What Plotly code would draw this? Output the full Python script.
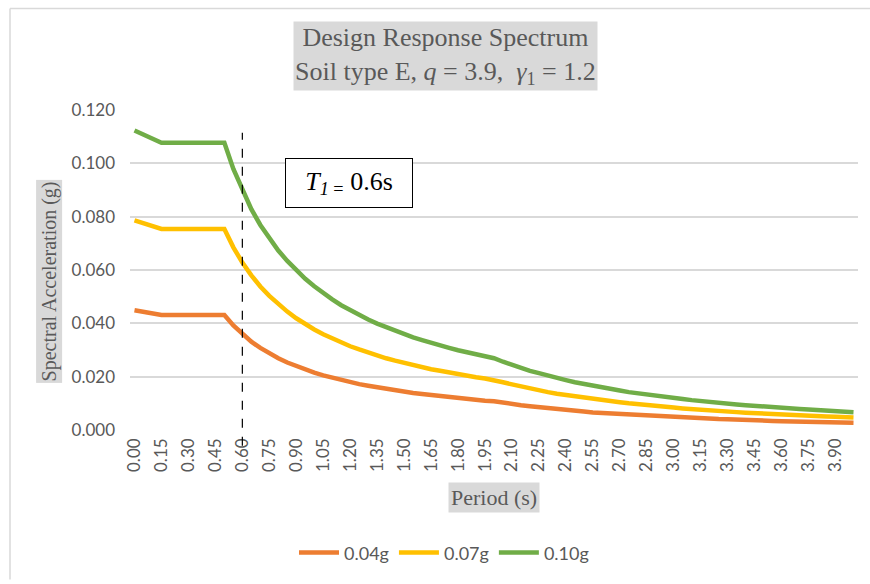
import plotly.graph_objects as go

period = [round(i * 0.05, 2) for i in range(81)]

sa_004 = [0.0449, 0.0444, 0.0438, 0.0431, 0.0431, 0.0431, 0.0431, 0.0431, 0.0431, 0.0431, 0.0431,
          0.0392, 0.0359, 0.0331, 0.0308, 0.0287, 0.0269, 0.0253, 0.0239, 0.0227, 0.0215,
          0.0205, 0.0196, 0.0187, 0.0180, 0.0172, 0.0166, 0.0160, 0.0154, 0.0149, 0.0144,
          0.0139, 0.0135, 0.0131, 0.0127, 0.0123, 0.0120, 0.0116, 0.0113, 0.0110, 0.0108,
          0.0102, 0.0098, 0.0093, 0.0089, 0.0085, 0.0081, 0.0078, 0.0075, 0.0072, 0.0069,
          0.0066, 0.0064, 0.0061, 0.0059, 0.0057, 0.0055, 0.0053, 0.0051, 0.0049, 0.0048,
          0.0046, 0.0045, 0.0043, 0.0042, 0.0041, 0.0040, 0.0038, 0.0037, 0.0036, 0.0035,
          0.0034, 0.0033, 0.0032, 0.0031, 0.0031, 0.0030, 0.0029, 0.0028, 0.0028, 0.0027]

sa_007 = [0.0786, 0.0776, 0.0766, 0.0754, 0.0754, 0.0754, 0.0754, 0.0754, 0.0754, 0.0754, 0.0754,
          0.0685, 0.0628, 0.0580, 0.0538, 0.0503, 0.0471, 0.0444, 0.0419, 0.0397, 0.0377,
          0.0359, 0.0343, 0.0328, 0.0314, 0.0302, 0.0290, 0.0279, 0.0269, 0.0260, 0.0251,
          0.0243, 0.0236, 0.0228, 0.0222, 0.0215, 0.0209, 0.0204, 0.0198, 0.0193, 0.0188,
          0.0179, 0.0171, 0.0163, 0.0156, 0.0149, 0.0142, 0.0136, 0.0131, 0.0125, 0.0120,
          0.0116, 0.0111, 0.0107, 0.0104, 0.0100, 0.0096, 0.0093, 0.0090, 0.0087, 0.0084,
          0.0081, 0.0078, 0.0076, 0.0074, 0.0071, 0.0069, 0.0067, 0.0065, 0.0063, 0.0062,
          0.0060, 0.0058, 0.0057, 0.0055, 0.0054, 0.0052, 0.0051, 0.0050, 0.0048, 0.0047]

sa_010 = [0.1123, 0.1109, 0.1094, 0.1077, 0.1077, 0.1077, 0.1077, 0.1077, 0.1077, 0.1077, 0.1077,
          0.0979, 0.0898, 0.0828, 0.0769, 0.0718, 0.0673, 0.0634, 0.0598, 0.0567, 0.0539,
          0.0513, 0.0490, 0.0468, 0.0449, 0.0431, 0.0414, 0.0399, 0.0385, 0.0371, 0.0359,
          0.0347, 0.0337, 0.0326, 0.0317, 0.0308, 0.0299, 0.0291, 0.0283, 0.0276, 0.0269,
          0.0256, 0.0244, 0.0233, 0.0222, 0.0213, 0.0203, 0.0195, 0.0187, 0.0179, 0.0172,
          0.0165, 0.0159, 0.0153, 0.0148, 0.0142, 0.0137, 0.0132, 0.0128, 0.0124, 0.0120,
          0.0116, 0.0112, 0.0108, 0.0105, 0.0102, 0.0099, 0.0096, 0.0093, 0.0090, 0.0088,
          0.0085, 0.0083, 0.0081, 0.0079, 0.0077, 0.0075, 0.0073, 0.0071, 0.0069, 0.0067]

series_names = ["0.04g", "0.07g", "0.10g"]
series_colors = ["#ED7D31", "#FFC000", "#70AD47"]
tick_vals = [round(i * 0.15, 2) for i in range(27)]
tick_text = [f"{v:.2f}" for v in tick_vals]
t1 = 0.6

W, H = 870, 584
L, R, T, B = 130, 12, 110, 151
pw, ph = W - L - R, H - T - B
xmin, xmax = -0.025, 4.025


def px(x):
    return (x - L) / pw


def py(y):
    return (H - B - y) / ph


fig = go.Figure()
for name, vals, col in zip(series_names, [sa_004, sa_007, sa_010], series_colors):
    fig.add_trace(go.Scatter(x=period, y=vals, mode="lines", name=name,
                             line=dict(color=col, width=4.5)))

gray = "#595959"
serif = "Liberation Serif, Times New Roman, serif"

fig.update_layout(
    width=W, height=H,
    margin=dict(l=L, r=R, t=T, b=B),
    paper_bgcolor="white", plot_bgcolor="white",
    font=dict(family="Lato, sans-serif", color=gray, size=17),
    showlegend=True,
    legend=dict(orientation="h", x=px(444), xanchor="center", y=py(557), yanchor="middle",
                font=dict(size=18, color=gray), itemwidth=40, tracegroupgap=0),
    xaxis=dict(range=[xmin, xmax], tickmode="array", tickvals=tick_vals, ticktext=tick_text,
               tickangle=-90, showgrid=False, zeroline=False, showline=False,
               tickfont=dict(size=17, color=gray), ticks="", ticklabelstandoff=4),
    yaxis=dict(range=[0, 0.12], dtick=0.02, tickformat=".3f", showgrid=True,
               gridcolor="#d9d9d9", gridwidth=1.5, zeroline=False, showline=False,
               tickfont=dict(size=17, color=gray), ticks="", ticklen=0, ticklabelstandoff=14),
)

# vertical dashed T1 line (paper coords)
xl = (t1 - xmin) / (xmax - xmin)
fig.add_shape(type="line", xref="paper", yref="paper", x0=xl, x1=xl,
              y0=py(449), y1=py(133), line=dict(color="black", width=1.2, dash="dash"))

# chart border (top and left)
fig.add_shape(type="line", xref="paper", yref="paper", x0=px(10), x1=px(870),
              y0=py(7.5), y1=py(7.5), line=dict(color="#d9d9d9", width=1.5))
fig.add_shape(type="line", xref="paper", yref="paper", x0=px(10), x1=px(10),
              y0=py(7.5), y1=py(584), line=dict(color="#d9d9d9", width=1.5))

# title
fig.add_annotation(xref="paper", yref="paper", x=px(445), y=py(55), xanchor="center", yanchor="middle",
                   text="Design Response Spectrum<br>Soil type E, <i>q</i> = 3.9,  <i>γ</i><sub>1</sub> = 1.2",
                   showarrow=False, font=dict(family=serif, size=26, color=gray),
                   bgcolor="#d9d9d9", borderpad=1)

# y-axis title
fig.add_annotation(xref="paper", yref="paper", x=px(49), y=py(283), xanchor="center", yanchor="middle",
                   text="Spectral Acceleration (g)", textangle=-90, showarrow=False,
                   font=dict(family=serif, size=20, color=gray), bgcolor="#d9d9d9", borderpad=1)

# x-axis title
fig.add_annotation(xref="paper", yref="paper", x=px(494), y=py(501), xanchor="center", yanchor="middle",
                   text="Period (s)", showarrow=False,
                   font=dict(family=serif, size=22, color=gray), bgcolor="#d9d9d9", borderpad=2)

# T1 box
fig.add_annotation(xref="paper", yref="paper", x=px(349), y=py(184), xanchor="center", yanchor="middle",
                   text="<i>T</i><sub><i>1</i> =</sub> 0.6s", showarrow=False,
                   font=dict(family=serif, size=26, color="black"), bgcolor="white",
                   bordercolor="black", borderwidth=1, borderpad=8, width=110)

fig.write_html("out.html", config={"displayModeBar": False},
               post_script="document.body.style.margin='0';")
